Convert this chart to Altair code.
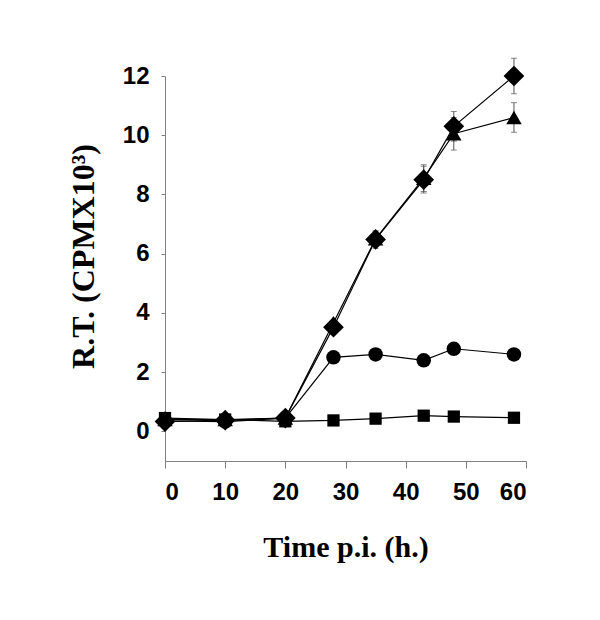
import altair as alt
import pandas as pd

hours = [0, 10, 20, 28, 35, 43, 48, 58]
diamond_y = [0.33, 0.38, 0.45, 3.52, 6.48, 8.5, 10.3, 12.0]
diamond_err = [0, 0, 0, 0, 0.3, 0.45, 0.5, 0.6]
triangle_y = [0.4, 0.4, 0.45, 3.67, 6.5, 8.55, 10.05, 10.6]
triangle_err = [0, 0, 0, 0, 0.25, 0.45, 0.55, 0.5]
circle_y = [0.35, 0.33, 0.45, 2.5, 2.6, 2.4, 2.79, 2.6]
square_y = [0.45, 0.4, 0.34, 0.37, 0.43, 0.53, 0.5, 0.46]
zeros = [0] * 8

series = ["square", "circle", "triangle", "diamond"]
shapes = ["square", "circle", "triangle-up", "diamond"]
sizes = [150, 210, 240, 430]

rows = []
for name, ys, errs in [("square", square_y, zeros), ("circle", circle_y, zeros),
                       ("triangle", triangle_y, triangle_err), ("diamond", diamond_y, diamond_err)]:
    for h, v, e in zip(hours, ys, errs):
        rows.append({"series": name, "hours": h, "rt": v, "lo": v - e, "hi": v + e, "err": e})
df = pd.DataFrame(rows)
df_err = df[df["err"] > 0]

x_enc = alt.X("hours:Q", scale=alt.Scale(domain=[0, 60], nice=False),
              axis=alt.Axis(values=[0, 10, 20, 30, 40, 50, 60], title="Time p.i. (h.)",
                            tickSize=7, labelPadding=12, titlePadding=28, titleFontSize=30))
y_enc = alt.Y("rt:Q", scale=alt.Scale(domain=[-1, 12], nice=False, zero=False),
              axis=alt.Axis(values=[0, 2, 4, 6, 8, 10, 12], title="R.T. (CPMX10³)",
                            tickSize=4, labelPadding=12, titleX=-65, titleY=180,
                            titleFontSize=32))

base = alt.Chart(df)
lines = base.mark_line(color="black", strokeWidth=1.2).encode(
    x=x_enc, y=y_enc, detail="series:N")
bars = alt.Chart(df_err).mark_rule(color="#555555", strokeWidth=1).encode(
    x="hours:Q", y="lo:Q", y2="hi:Q")
caps_lo = alt.Chart(df_err).mark_tick(color="#555555", thickness=1, size=6, orient="horizontal").encode(
    x="hours:Q", y="lo:Q")
caps_hi = alt.Chart(df_err).mark_tick(color="#555555", thickness=1, size=6, orient="horizontal").encode(
    x="hours:Q", y="hi:Q")

point_layers = []
for name, shp, sz in zip(series, shapes, sizes):
    point_layers.append(
        base.transform_filter(alt.datum.series == name)
        .mark_point(filled=True, color="black", opacity=1, shape=shp, size=sz)
        .encode(x="hours:Q", y="rt:Q")
    )

chart = alt.layer(lines, bars, caps_lo, caps_hi, *point_layers).properties(
    width=361, height=385,
    autosize=alt.AutoSizeParams(type="none"),
    padding={"left": 157, "top": 68, "right": 60, "bottom": 140},
    background="white",
).configure_view(stroke=None).configure_axis(
    grid=False, domainColor="#808080", tickColor="#808080",
    labelFont="Liberation Sans", labelFontWeight="bold", labelFontSize=24, labelColor="black",
    titleFont="Liberation Serif", titleFontWeight="bold", titleColor="black",
)

chart.save("out.html", embed_options={"renderer": "svg", "actions": False})
